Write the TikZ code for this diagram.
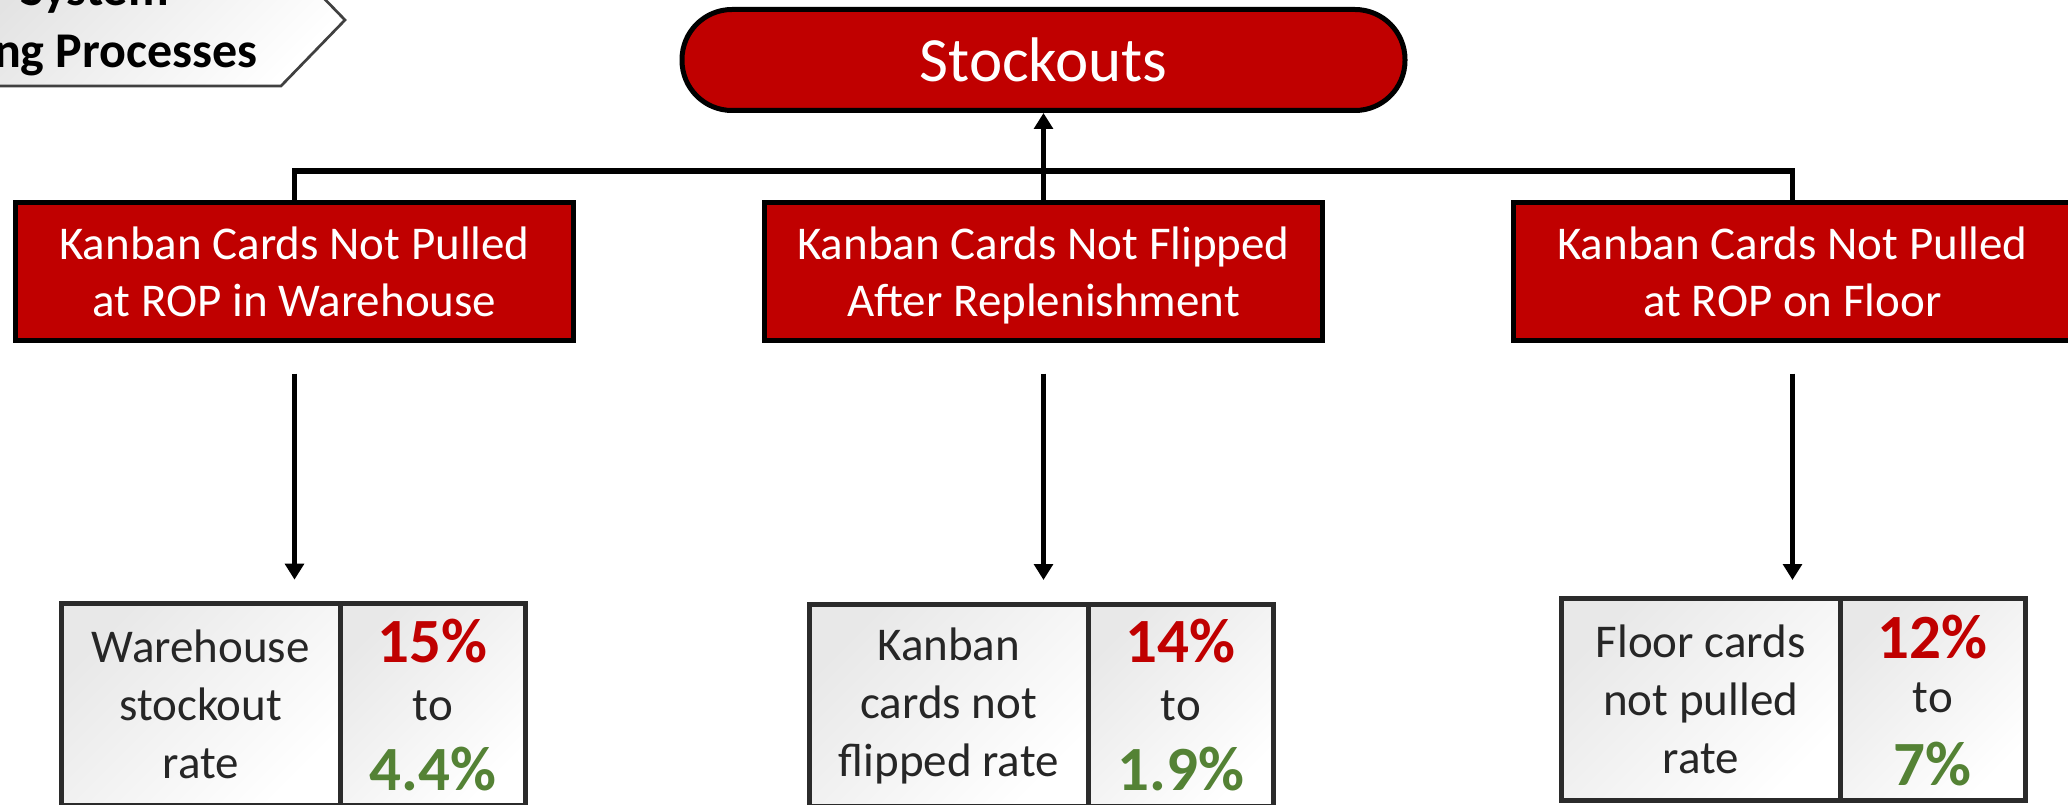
\documentclass[tikz,border=0pt]{standalone}
\usepackage{fontspec}
\setmainfont{Carlito}
\usetikzlibrary{arrows.meta}
\newdimen\px \px=0.75pt
\definecolor{boxred}{HTML}{C00000}
\definecolor{numgreen}{HTML}{548235}
\definecolor{inkgray}{HTML}{262626}
\definecolor{rimgray}{HTML}{2B2B2B}
\definecolor{tabgray}{HTML}{404040}

\begin{document}
\begin{tikzpicture}[x=0.75pt,y=-0.75pt,
  causebox/.style={draw=black, line width=5\px, fill=boxred, text=white,
    minimum width=558\px, minimum height=138\px, inner sep=0pt, align=center,
    text depth=0pt, font=\fontsize{35.25pt}{42.75pt}\selectfont},
  cellbase/.style={draw=rimgray, line width=5\px, top color=black!9, bottom color=white,
    shading angle=45, minimum height=202\px, inner sep=0pt},
  namecell/.style={cellbase, minimum width=278.5\px, text=inkgray, align=center,
    font=\fontsize{35.25pt}{43.5pt}\selectfont},
  valcell/.style={cellbase, minimum width=185.5\px},
  before/.style={anchor=base, inner sep=0pt, text=boxred, font=\fontsize{47.25pt}{50pt}\selectfont\bfseries},
  after/.style={anchor=base, inner sep=0pt, text=numgreen, font=\fontsize{47.25pt}{50pt}\selectfont\bfseries},
  joiner/.style={anchor=base, inner sep=0pt, text=inkgray, font=\fontsize{35.25pt}{40pt}\selectfont},
  link/.style={draw=black, line width=3.9pt},
  flow/.style={link, -{Triangle[width=14pt,length=12pt]}},
  tabtext/.style={anchor=base east, inner sep=0pt, text=black, font=\fontsize{37.5pt}{40pt}\selectfont\bfseries}
]
\useasboundingbox (0,0) rectangle (2068,805);
\clip (0,0) rectangle (2068,805);

% section tab in the corner
\draw[draw=tabgray, line width=2.7\px, top color=black!11, bottom color=white, shading angle=45]
  (-20,-46) -- (281,-46) -- (345,20) -- (281,86) -- (-20,86) -- cycle;
\node[tabtext] (tabA) at (169,6) {System};
\node[tabtext] (tabB) at (258,68) {ng Processes};

% effect
\node[draw=black, line width=5\px, fill=boxred, text=white, rounded corners=50\px,
  minimum width=723\px, minimum height=101\px, inner sep=0pt,
  font=\fontsize{47.25pt}{50pt}\selectfont] (stock) at (1043.5,60) {Stockouts};

% causes
\node[causebox] (wh) at (294.5,271.5) {Kanban Cards Not Pulled\\at ROP in Warehouse};
\node[causebox] (nf) at (1043.5,271.5) {Kanban Cards Not Flipped\\After Replenishment};
\node[causebox] (fl) at (1792.5,271.5) {Kanban Cards Not Pulled\\at ROP on Floor};

% measures
\node[namecell] (whname) at (200.75,704.5) {Warehouse\\stockout\\rate};
\node[valcell]  (whval)  at (432.75,704.5) {};
\node[before] (whfrom) at (432.75,662) {15\%};
\node[joiner] (whto)   at (432.75,720) {to};
\node[after]  (whnow)  at (432.75,790) {4.4\%};

\node[namecell] (nfname) at (948.75,705.5) {Kanban\\cards not\\flipped rate};
\node[valcell]  (nfval)  at (1180.75,705.5) {};
\node[before] (nffrom) at (1180.75,662) {14\%};
\node[joiner] (nfto)   at (1180.75,720) {to};
\node[after]  (nfnow)  at (1180.75,790) {1.9\%};

\node[namecell] (flname) at (1700.75,699.5) {Floor cards\\not pulled\\rate};
\node[valcell]  (flval)  at (1932.75,699.5) {};
\node[before] (flfrom) at (1932.75,658) {12\%};
\node[joiner] (flto)   at (1932.75,712) {to};
\node[after]  (flnow)  at (1932.75,785) {7\%};

% connectors
\coordinate (bus) at (1043.5,171);
\draw[link] (wh.north) |- (bus) -| (fl.north);
\draw[flow] (nf.north) -- (stock.south);
\draw[flow, shorten <=23pt, shorten >=16pt] (wh.south) -- (wh.south |- whname.north);
\draw[flow, shorten <=23pt, shorten >=16.5pt] (nf.south) -- (nf.south |- nfname.north);
\draw[flow, shorten <=23pt, shorten >=12pt] (fl.south) -- (fl.south |- flname.north);
\end{tikzpicture}
\end{document}
